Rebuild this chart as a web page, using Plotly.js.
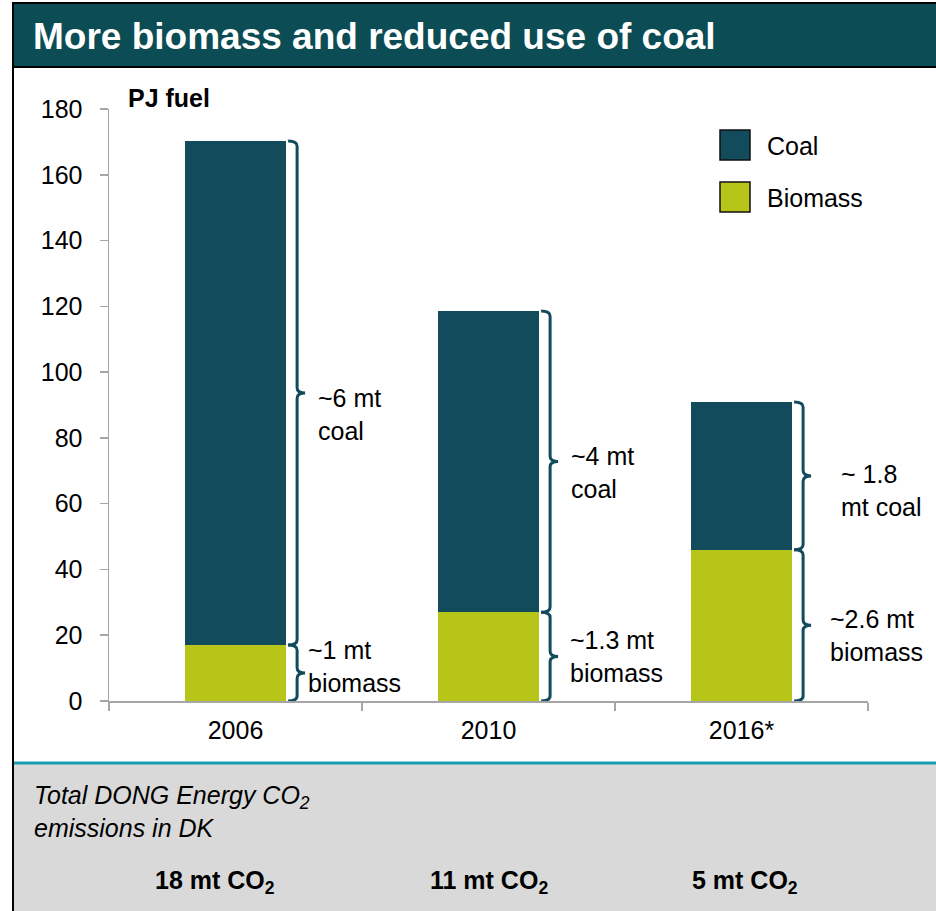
<!DOCTYPE html>
<html><head><meta charset="utf-8">
<script src="https://cdn.plot.ly/plotly-3.0.1.min.js"></script>
<style>html,body{margin:0;padding:0;background:#fff}#chart{width:936px;height:911px}</style>
</head><body><div id="chart"></div>
<script>
// ---------- data ----------
const years = ['2006', '2010', '2016*'];
const biomass = [17, 27, 46];
const coal = [153.3, 91.6, 44.9];
const seriesNames = ['Coal', 'Biomass'];
const coalLabels = ['~6 mt<br>coal', '~4 mt<br>coal', '~ 1.8<br>mt coal'];
const biomassLabels = ['~1 mt<br>biomass', '~1.3 mt<br>biomass', '~2.6 mt<br>biomass'];
const emissions = ['18 mt CO<sub>2</sub>', '11 mt CO<sub>2</sub>', '5 mt CO<sub>2</sub>'];
const titleText = 'More biomass and reduced use of coal';
const unitText = 'PJ fuel';
const panelText = 'Total DONG Energy CO<sub>2</sub><br>emissions in DK';

// ---------- style / geometry ----------
const COAL = '#124b5c', BIO = '#b7c418', HEAD = '#0b4c55', TEAL = '#1b9db1', GREY = '#d9d9d9';
const AXC = '#a6a6a6';
const FONT = 'Liberation Sans, Arial, sans-serif';
const W = 936, H = 911, L = 109, R = 868, T = 109, B = 701;
const px = x => (x - L) / (R - L);
const py = y => (B - y) / (B - T);
const BARW = 0.4;
const coalShift = [30, 30, 47], bioShift = [20, 29, 36];
const coalYShift = [-21, -11, -15], bioYShift = [7, 0, -10];
const emisShift = [-21, 0, 3];
const HOOK = 2, SPINE = 11, TIP = 19;

function bracePath(y0, y1) {
  const ym = (y0 + y1) / 2, r = 1.6;
  return `M${HOOK},${y1} Q${SPINE},${y1} ${SPINE},${y1 - r} L${SPINE},${ym + r} Q${SPINE},${ym} ${TIP},${ym} ` +
         `Q${SPINE},${ym} ${SPINE},${ym - r} L${SPINE},${y0 + r} Q${SPINE},${y0} ${HOOK},${y0}`;
}

const traces = [
  {type: 'bar', name: seriesNames[1], x: years, y: biomass, width: BARW,
   marker: {color: BIO, line: {width: 0}}, showlegend: false, hoverinfo: 'none'},
  {type: 'bar', name: seriesNames[0], x: years, y: coal, width: BARW,
   marker: {color: COAL, line: {width: 0}}, showlegend: false, hoverinfo: 'none'}
];

const shapes = [
  {type: 'rect', xref: 'paper', yref: 'paper', x0: px(12), x1: px(940), y0: py(2), y1: py(68),
   fillcolor: '#000', line: {width: 0}, layer: 'above'},
  {type: 'rect', xref: 'paper', yref: 'paper', x0: px(14), x1: px(940), y0: py(4), y1: py(66),
   fillcolor: HEAD, line: {width: 0}, layer: 'above'},
  {type: 'rect', xref: 'paper', yref: 'paper', x0: px(14), x1: px(940), y0: py(764), y1: py(915),
   fillcolor: GREY, line: {width: 0}, layer: 'below'},
  {type: 'rect', xref: 'paper', yref: 'paper', x0: px(14), x1: px(940), y0: py(761.5), y1: py(764.5),
   fillcolor: TEAL, line: {width: 0}, layer: 'above'},
  {type: 'rect', xref: 'paper', yref: 'paper', x0: px(12), x1: px(14), y0: py(2), y1: py(915),
   fillcolor: '#000', line: {width: 0}, layer: 'above'},
  // legend squares
  {type: 'rect', xref: 'paper', yref: 'paper', x0: px(720), x1: px(750), y0: py(130), y1: py(160),
   fillcolor: COAL, line: {color: '#111', width: 1.5}, layer: 'above'},
  {type: 'rect', xref: 'paper', yref: 'paper', x0: px(720), x1: px(750), y0: py(182), y1: py(212),
   fillcolor: BIO, line: {color: '#111', width: 1.5}, layer: 'above'}
];

years.forEach((yr, i) => {
  const top = biomass[i] + coal[i];
  shapes.push({type: 'path', xref: 'x', yref: 'y', xsizemode: 'pixel', xanchor: i + BARW / 2,
    path: bracePath(0, biomass[i]), line: {color: COAL, width: 3}, layer: 'above'});
  shapes.push({type: 'path', xref: 'x', yref: 'y', xsizemode: 'pixel', xanchor: i + BARW / 2,
    path: bracePath(biomass[i], top), line: {color: COAL, width: 3}, layer: 'above'});
});

const annotations = [
  {xref: 'paper', yref: 'paper', x: px(126), y: py(98), xanchor: 'left', yanchor: 'middle',
   text: '<b>' + unitText + '</b>', showarrow: false, font: {family: FONT, size: 25, color: '#000'}},
  {xref: 'paper', yref: 'paper', x: px(765), y: py(146), xanchor: 'left', yanchor: 'middle',
   text: seriesNames[0], showarrow: false, font: {family: FONT, size: 25, color: '#000'}},
  {xref: 'paper', yref: 'paper', x: px(765), y: py(198), xanchor: 'left', yanchor: 'middle',
   text: seriesNames[1], showarrow: false, font: {family: FONT, size: 25, color: '#000'}},
  {xref: 'paper', yref: 'paper', x: px(32), y: py(811), xanchor: 'left', yanchor: 'middle', align: 'left',
   text: '<i>' + panelText.replace('<br>', '</i><br><i>') + '</i>', showarrow: false,
   font: {family: FONT, size: 25, color: '#000'}}
];

years.forEach((yr, i) => {
  const top = biomass[i] + coal[i];
  annotations.push({xref: 'x', yref: 'y', x: i + BARW / 2, y: (biomass[i] + top) / 2,
    xanchor: 'left', yanchor: 'middle', align: 'left', xshift: coalShift[i], yshift: coalYShift[i],
    text: coalLabels[i], showarrow: false, font: {family: FONT, size: 25, color: '#000'}});
  annotations.push({xref: 'x', yref: 'y', x: i + BARW / 2, y: biomass[i] / 2,
    xanchor: 'left', yanchor: 'middle', align: 'left', xshift: bioShift[i], yshift: bioYShift[i],
    text: biomassLabels[i], showarrow: false, font: {family: FONT, size: 25, color: '#000'}});
  annotations.push({xref: 'x', yref: 'paper', x: i, y: py(882), xanchor: 'center', yanchor: 'middle',
    xshift: emisShift[i], text: '<b>' + emissions[i] + '</b>', showarrow: false,
    font: {family: FONT, size: 25, color: '#000'}});
});

const layout = {
  width: W, height: H,
  margin: {l: L, r: W - R, t: T, b: H - B, pad: 0},
  paper_bgcolor: '#fff', plot_bgcolor: 'rgba(0,0,0,0)',
  barmode: 'stack',
  showlegend: false,
  font: {family: FONT, color: '#000'},
  title: {text: '<b>' + titleText + '</b>', xref: 'container', yref: 'container',
    x: 33 / W, xanchor: 'left', y: 1 - 36 / H, yanchor: 'middle',
    font: {family: FONT, size: 37, color: '#fff'}},
  xaxis: {type: 'category', range: [-0.5, 2.5], tickson: 'boundaries', ticks: 'outside', ticklen: 8,
    tickcolor: AXC, tickwidth: 1.5, showline: true, linecolor: AXC, linewidth: 1.5,
    showgrid: false, zeroline: false, tickfont: {family: FONT, size: 25, color: '#000'},
    ticklabelstandoff: 6, fixedrange: true},
  yaxis: {range: [0, 180], dtick: 20, tick0: 0, ticks: 'outside', ticklen: 8,
    tickcolor: AXC, tickwidth: 1.5, showline: true, linecolor: AXC, linewidth: 1.5,
    showgrid: false, zeroline: false, tickfont: {family: FONT, size: 25, color: '#000'},
    ticklabelstandoff: 12, fixedrange: true},
  shapes: shapes,
  annotations: annotations
};

Plotly.newPlot('chart', traces, layout, {displayModeBar: false, staticPlot: true});
</script>
</body></html>
